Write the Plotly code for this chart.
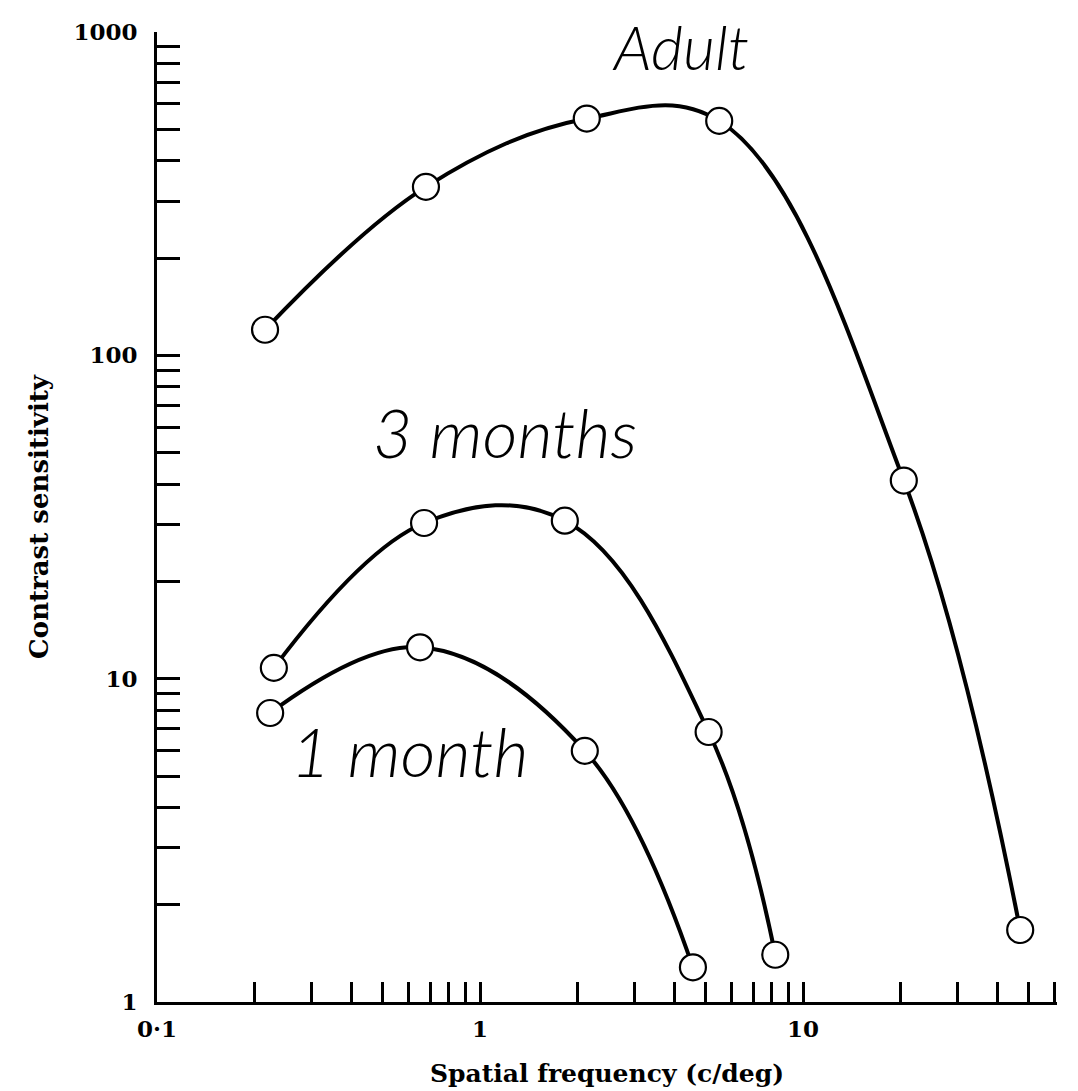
import plotly.graph_objects as go

# ---- data ----
adult_x = [0.216, 0.68, 2.14, 5.5, 20.5, 47]
adult_y = [120, 332, 540, 531, 41, 1.67]
m3_x = [0.230, 0.671, 1.83, 5.1, 8.2]
m3_y = [10.8, 30.3, 30.8, 6.84, 1.40]
m1_x = [0.224, 0.652, 2.11, 4.56]
m1_y = [7.83, 12.5, 5.98, 1.28]

series_names = ["Adult", "3 months", "1 month"]

x_tickvals = [0.1, 0.2, 0.3, 0.4, 0.5, 0.6, 0.7, 0.8, 0.9, 1, 2, 3, 4, 5, 6, 7, 8, 9, 10, 20, 30, 40, 50, 60]
x_ticklabels = {0.1: "0·1", 1: "1", 10: "10"}
y_tickvals = [1, 2, 3, 4, 5, 6, 7, 8, 9, 10, 20, 30, 40, 50, 60, 70, 80, 90,
              100, 200, 300, 400, 500, 600, 700, 800, 900, 1000]
y_ticklabels = {1: "1", 10: "10", 100: "100", 1000: "1000"}

fig = go.Figure()
for name, xs, ys in [("Adult", adult_x, adult_y), ("3 months", m3_x, m3_y), ("1 month", m1_x, m1_y)]:
    fig.add_trace(go.Scatter(
        x=xs, y=ys, mode="lines+markers", name=name,
        line=dict(color="black", width=4, shape="spline", smoothing=1.1),
        marker=dict(size=26, color="white", line=dict(color="black", width=2.2)),
        showlegend=False,
    ))

label_font = dict(family="Lato", size=68, color="black", style="italic", weight=300)
adult_font = dict(family="Lato", size=62, color="black", style="italic", weight=300)
# label positions (log10 units of the axes)
fig.add_annotation(x=0.622, y=2.957, text=series_names[0], showarrow=False, font=adult_font,
                   xref="x", yref="y", borderpad=0)
fig.add_annotation(x=0.077, y=1.763, text=series_names[1], showarrow=False, font=label_font, xref="x", yref="y")
fig.add_annotation(x=-0.217, y=0.779, text=series_names[2], showarrow=False, font=label_font, xref="x", yref="y")

tick_font = dict(family="DejaVu Serif", size=23, color="black", weight="bold")

fig.update_xaxes(
    type="log", range=[-1, 1.786],
    tickmode="array", tickvals=x_tickvals,
    ticktext=[x_ticklabels.get(v, "") for v in x_tickvals],
    ticks="inside", ticklen=20, tickwidth=2.5, tickcolor="black",
    showline=True, linecolor="black", linewidth=3, automargin=False,
    showgrid=False, zeroline=False, tickfont=tick_font, ticklabelstandoff=4,
    title=dict(text="Spatial frequency (c/deg)",
               font=dict(family="DejaVu Serif", size=25, color="black", weight="bold"), standoff=24),
)
fig.update_yaxes(
    type="log", range=[0, 3],
    tickmode="array", tickvals=y_tickvals,
    ticktext=[y_ticklabels.get(v, "") for v in y_tickvals],
    ticks="inside", ticklen=23, tickwidth=2.5, tickcolor="black",
    showline=True, linecolor="black", linewidth=3, automargin=False,
    showgrid=False, zeroline=False, tickfont=tick_font, ticklabelstandoff=12,
    title=dict(text="Contrast sensitivity",
               font=dict(family="DejaVu Serif", size=26, color="black", weight="bold"), standoff=18),
)

fig.update_layout(
    width=1070, height=1083,
    margin=dict(l=149, r=21, t=24, b=89),
    plot_bgcolor="white", paper_bgcolor="white",
)

fig.write_html("out.html")
